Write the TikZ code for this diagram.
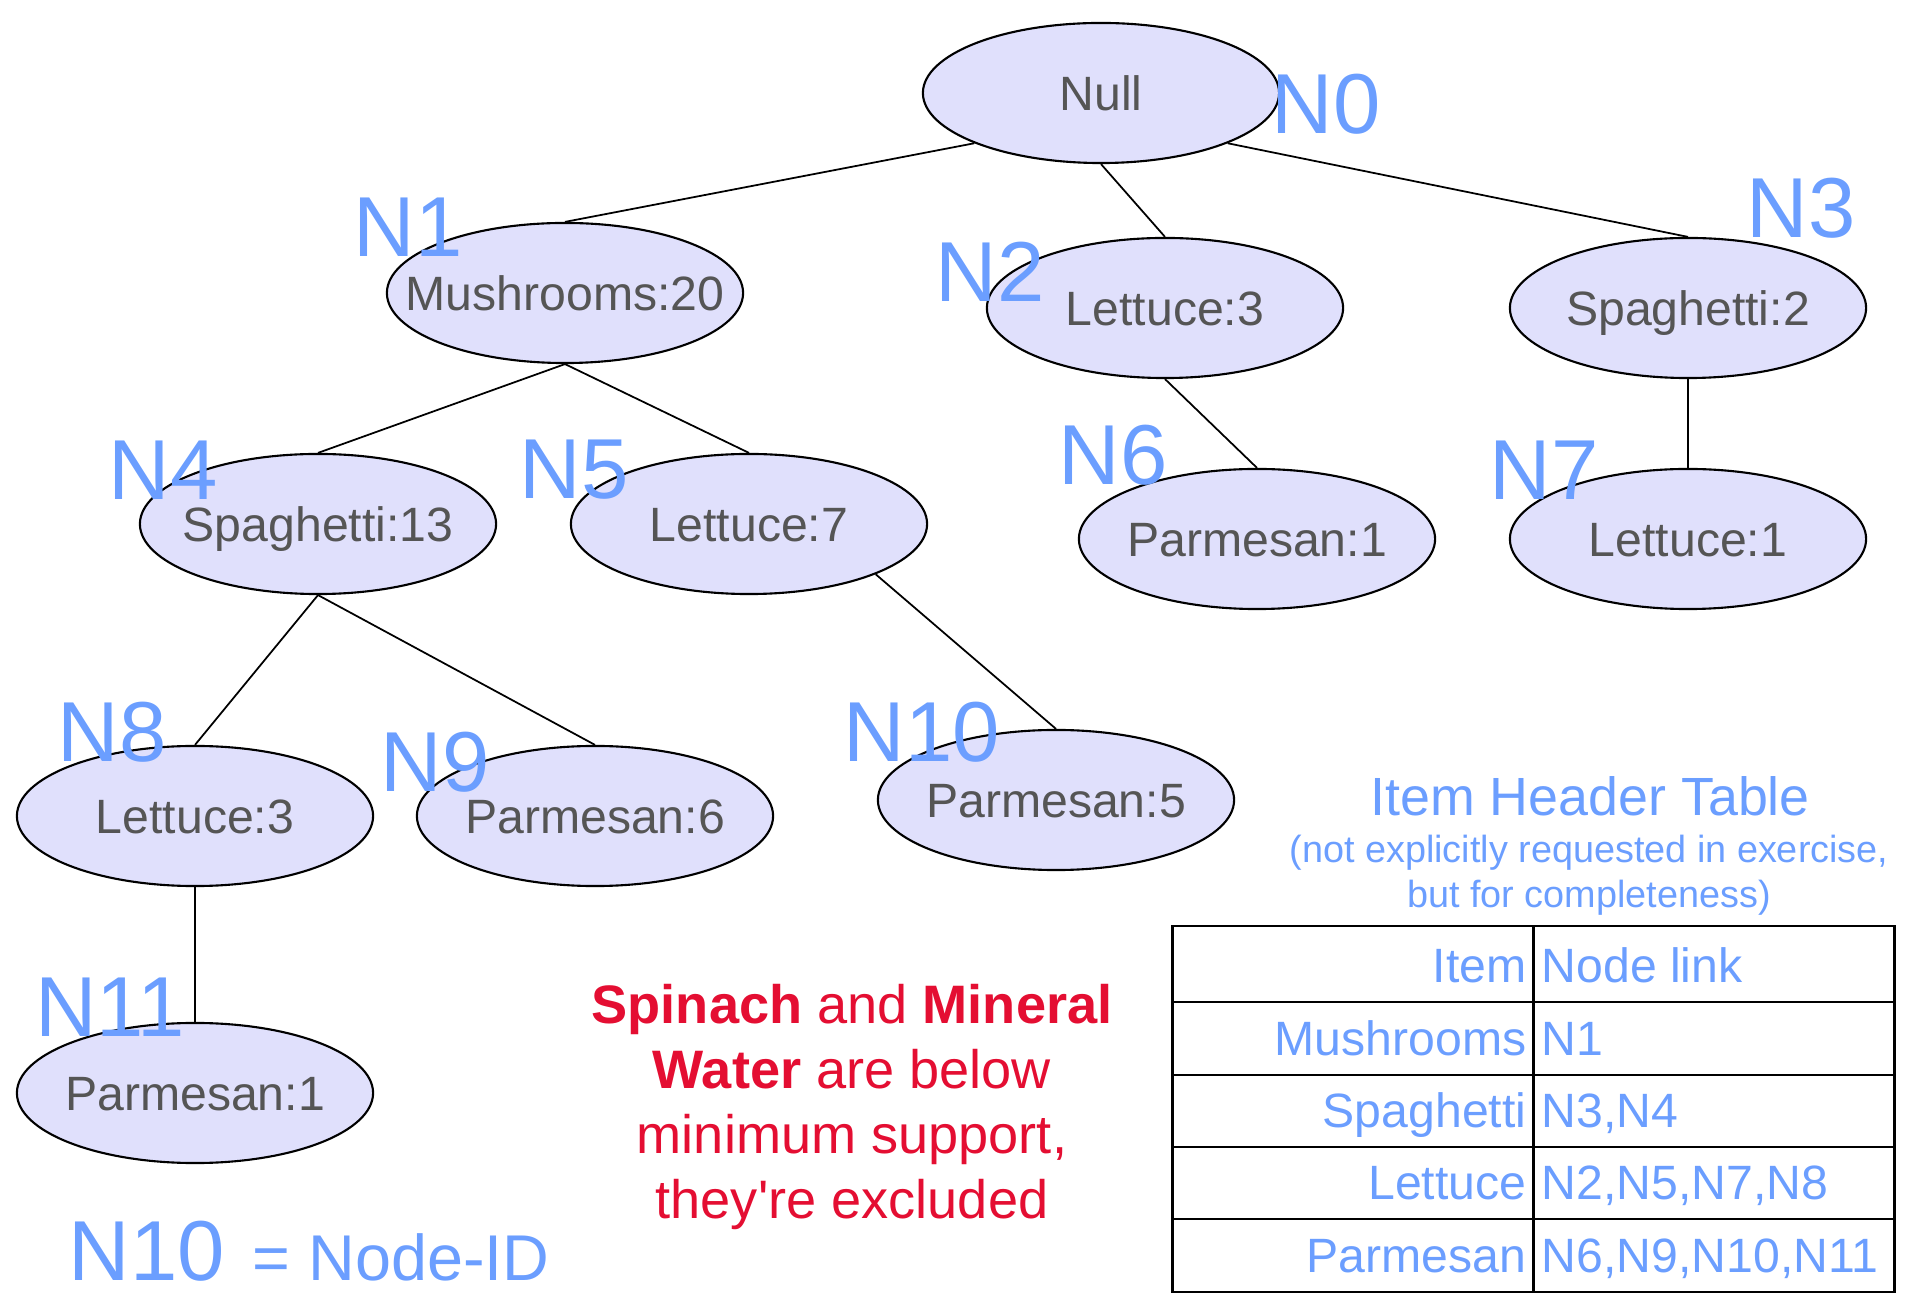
\documentclass[tikz,border=0pt]{standalone}
\usepackage{fontspec}
\setmainfont{Liberation Sans}
\usetikzlibrary{shapes.geometric}
\definecolor{idBlue}{RGB}{107,158,255}
\definecolor{treeFill}{RGB}{224,224,252}
\definecolor{treeText}{RGB}{85,85,85}
\definecolor{noteRed}{RGB}{228,14,50}
\newcommand{\itemCount}[1]{\makebox[0pt]{#1}}
\tikzset{
    treeNode/.style={ellipse, draw=black, line width=0.6pt, fill=treeFill, text=treeText,
        minimum width=3.56cm, minimum height=1.40cm, inner sep=0pt,
        font=\fontsize{13.7}{16}\selectfont, text height=9.8pt, text depth=0pt},
    nodeId/.style={text=idBlue, inner sep=0pt, font=\fontsize{24.2}{29}\selectfont},
    treeEdge/.style={line width=0.5pt},
    cellText/.style={text=idBlue, inner sep=0pt, font=\fontsize{13.7}{16}\selectfont}
}
\begin{document}
\begin{tikzpicture}[x=0.01cm,y=-0.01cm]
        \useasboundingbox (0,0) rectangle (1912,1310);
        % tree
        \node[treeNode] (null) at (1101,93) {\itemCount{Null}};
        \node[treeNode] (mush) at (565,293) {\itemCount{Mushrooms:20}};
        \node[treeNode] (lettA) at (1165,308) {\itemCount{Lettuce:3}};
        \node[treeNode] (spagA) at (1688,308) {\itemCount{Spaghetti:2}};
        \node[treeNode] (spagB) at (318,524) {\itemCount{Spaghetti:13}};
        \node[treeNode] (lettB) at (749,524) {\itemCount{Lettuce:7}};
        \node[treeNode] (parmA) at (1257,539) {\itemCount{Parmesan:1}};
        \node[treeNode] (lettC) at (1688,539) {\itemCount{Lettuce:1}};
        \node[treeNode] (lettD) at (195,816) {\itemCount{Lettuce:3}};
        \node[treeNode] (parmB) at (595,816) {\itemCount{Parmesan:6}};
        \node[treeNode] (parmC) at (1056,800) {\itemCount{Parmesan:5}};
        \node[treeNode] (parmD) at (195,1093) {\itemCount{Parmesan:1}};
        \draw[treeEdge] (null.south west) -- (mush.north);
        \draw[treeEdge] (null.south) -- (lettA.north);
        \draw[treeEdge] (null.south east) -- (spagA.north);
        \draw[treeEdge] (mush.south) -- (spagB.north);
        \draw[treeEdge] (mush.south) -- (lettB.north);
        \draw[treeEdge] (lettA.south) -- (parmA.north);
        \draw[treeEdge] (spagA.south) -- (lettC.north);
        \draw[treeEdge] (spagB.south) -- (lettD.north);
        \draw[treeEdge] (spagB.south) -- (parmB.north);
        \draw[treeEdge] (lettB.south east) -- (parmC.north);
        \draw[treeEdge] (lettD.south) -- (parmD.north);
        % node ids
        \node[nodeId] (idN0) at (1326,104) {N0};
        \node[nodeId] (idN1) at (408,227) {N1};
        \node[nodeId] (idN2) at (990,272) {N2};
        \node[nodeId] (idN3) at (1801,208) {N3};
        \node[nodeId] (idN4) at (163,470) {N4};
        \node[nodeId] (idN5) at (574,470) {N5};
        \node[nodeId] (idN6) at (1113,455) {N6};
        \node[nodeId] (idN7) at (1544,470) {N7};
        \node[nodeId] (idN8) at (112,732) {N8};
        \node[nodeId] (idN9) at (435,762) {N9};
        \node[nodeId] (idN10) at (922,732) {N10};
        \node[nodeId] (idN11) at (110,1007) {N11};
        % legend
        \node[nodeId, anchor=base west] (legId) at (68,1280) {N10};
        \node[text=idBlue, inner sep=0pt, anchor=base west, font=\fontsize{18.4}{22}\selectfont] (legText) at (252,1280) {= Node-ID};
        % note
        \node[text=noteRed, inner sep=0pt, align=center, font=\fontsize{15.4}{18.5}\selectfont] (note) at (852,1107)
            {\textbf{Spinach} and \textbf{Mineral}\\ \textbf{Water} are below\\ minimum support,\\ they\textquotesingle re excluded};
        % item header table
        \node[text=idBlue, inner sep=0pt, font=\fontsize{15.3}{18}\selectfont] (tblTitle) at (1590,796) {Item Header Table};
        \node[text=idBlue, inner sep=0pt, align=center, font=\fontsize{10.75}{12.8}\selectfont] (tblNote) at (1589,875)
            {(not explicitly requested in exercise,\\ but for completeness)};
        \draw[line width=0.85pt] (1172,926) rectangle (1894,1292);
        \draw[line width=0.85pt] (1533,926) -- (1533,1292);
        \draw[line width=0.85pt] (1172,1002) -- (1894,1002);
        \draw[line width=0.85pt] (1172,1075) -- (1894,1075);
        \draw[line width=0.85pt] (1172,1147) -- (1894,1147);
        \draw[line width=0.85pt] (1172,1219) -- (1894,1219);
        \node[cellText, anchor=base east] (hdItem) at (1527,982) {Item};
        \node[cellText, anchor=base west] (hdLink) at (1541,982) {Node link};
        \node[cellText, anchor=base east] (itMush) at (1527,1055) {Mushrooms};
        \node[cellText, anchor=base west] (lkMush) at (1541,1055) {N1};
        \node[cellText, anchor=base east] (itSpag) at (1527,1127) {Spaghetti};
        \node[cellText, anchor=base west] (lkSpag) at (1541,1127) {N3,N4};
        \node[cellText, anchor=base east] (itLett) at (1527,1199) {Lettuce};
        \node[cellText, anchor=base west] (lkLett) at (1541,1199) {N2,N5,N7,N8};
        \node[cellText, anchor=base east] (itParm) at (1527,1272) {Parmesan};
        \node[cellText, anchor=base west] (lkParm) at (1541,1272) {N6,N9,N10,N11};
\end{tikzpicture}
\end{document}
